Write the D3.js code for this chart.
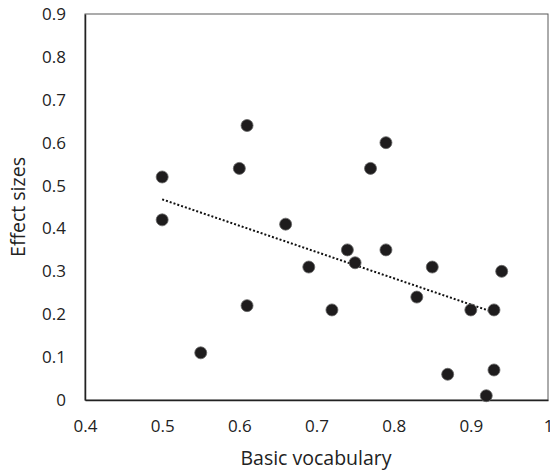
<!DOCTYPE html>
<html>
<head>
<meta charset="utf-8">
<script src="https://cdn.jsdelivr.net/npm/d3@7"></script>
<style>
  body { margin: 0; background: #fff; }
  text { font-family: "Open Sans", "Liberation Sans", sans-serif; fill: #222; }
</style>
</head>
<body>
<svg id="chart" width="550" height="471"></svg>
<script>
// valeurs
var vocab = [0.5, 0.5, 0.55, 0.6, 0.61, 0.61, 0.66, 0.69, 0.72, 0.74, 0.75,
             0.77, 0.79, 0.79, 0.83, 0.85, 0.87, 0.9, 0.92, 0.93, 0.93, 0.94];
var effect = [0.52, 0.42, 0.11, 0.54, 0.64, 0.22, 0.41, 0.31, 0.21, 0.35, 0.32,
              0.54, 0.6, 0.35, 0.24, 0.31, 0.06, 0.21, 0.01, 0.21, 0.07, 0.30];
var xticks = [0.4, 0.5, 0.6, 0.7, 0.8, 0.9, 1];
var yticks = [0, 0.1, 0.2, 0.3, 0.4, 0.5, 0.6, 0.7, 0.8, 0.9];

var svg = d3.select("#chart");
var pLeft = 85, pRight = 548, pTop = 14, pBottom = 400;

var x = d3.scaleLinear().domain([0.4, 1]).range([pLeft, pRight]);
var y = d3.scaleLinear().domain([0, 0.9]).range([pBottom, pTop]);

var fmt = function (d) { return d === 0 ? "0" : d === 1 ? "1" : d3.format(".1f")(d); };

// cadre
svg.append("rect")
  .attr("x", pLeft).attr("y", pTop)
  .attr("width", pRight - pLeft).attr("height", pBottom - pTop)
  .attr("fill", "none").attr("stroke", "#595959").attr("stroke-width", 1);

var xAxis = svg.append("g")
  .attr("transform", "translate(0," + pBottom + ")")
  .call(d3.axisBottom(x).tickValues(xticks).tickFormat(fmt).tickSize(0).tickPadding(20));
xAxis.select(".domain").attr("stroke", "#222").attr("stroke-width", 1.5);
xAxis.selectAll("text").attr("font-size", 17).attr("fill", "#222")
  .attr("font-family", "'Open Sans', sans-serif");

var yAxis = svg.append("g")
  .attr("transform", "translate(" + pLeft + ",0)")
  .call(d3.axisLeft(y).tickValues(yticks).tickFormat(fmt).tickSize(0).tickPadding(19));
yAxis.select(".domain").attr("stroke", "#222").attr("stroke-width", 1.5);
yAxis.selectAll("text").attr("font-size", 17).attr("fill", "#222")
  .attr("font-family", "'Open Sans', sans-serif");

// droite de tendance (moindres carrés)
var mx = d3.mean(vocab), my = d3.mean(effect);
var sxy = d3.sum(vocab, function (v, i) { return (v - mx) * (effect[i] - my); });
var sxx = d3.sum(vocab, function (v) { return (v - mx) * (v - mx); });
var slope = sxy / sxx, icpt = my - slope * mx;
var x0 = d3.min(vocab), x1 = 0.93;
svg.append("line")
  .attr("x1", x(x0)).attr("y1", y(icpt + slope * x0))
  .attr("x2", x(x1)).attr("y2", y(icpt + slope * x1))
  .attr("stroke", "#111").attr("stroke-width", 2)
  .attr("stroke-dasharray", "2,2");

svg.append("g").selectAll("circle")
  .data(vocab)
  .join("circle")
  .attr("cx", function (d) { return x(d); })
  .attr("cy", function (d, i) { return y(effect[i]); })
  .attr("r", 6)
  .attr("fill", "#1e1c1d")
  .attr("stroke", "#666")
  .attr("stroke-width", 0.8);

svg.append("text")
  .attr("x", 316).attr("y", 465)
  .attr("text-anchor", "middle").attr("font-size", 19.5)
  .text("Basic vocabulary");

svg.append("text")
  .attr("transform", "translate(25,207) rotate(-90)")
  .attr("text-anchor", "middle").attr("font-size", 19.5)
  .text("Effect sizes");
</script>
</body>
</html>
